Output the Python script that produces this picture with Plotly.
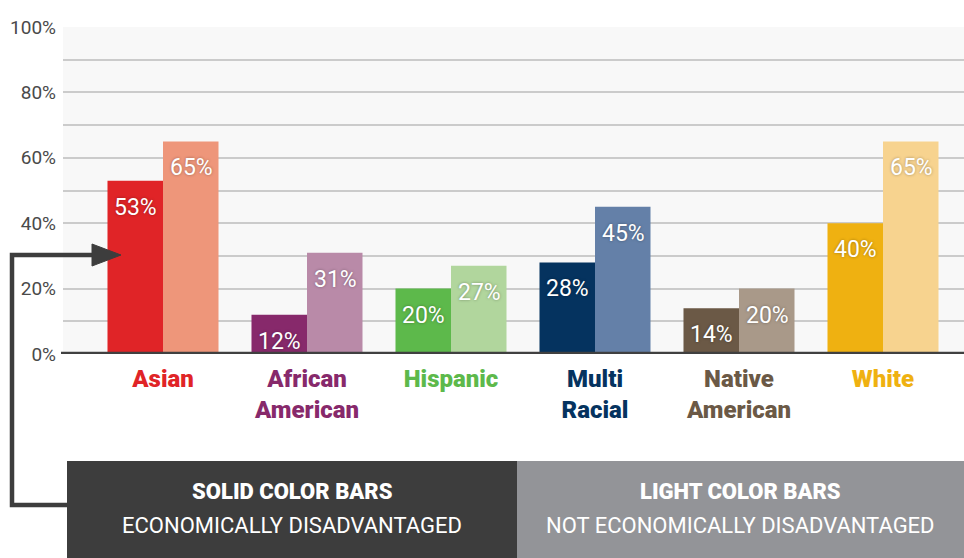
import plotly.graph_objects as go

categories = ["Asian", "African<br>American", "Hispanic", "Multi<br>Racial", "Native<br>American", "White"]
disadvantaged = [53, 12, 20, 28, 14, 40]
not_disadvantaged = [65, 31, 27, 45, 20, 65]
dark_colors = ["#e02427", "#87296b", "#5db94b", "#05335f", "#6b5946", "#efb111"]
light_colors = ["#ee967a", "#b98aa8", "#b1d69d", "#6480a8", "#a99989", "#f7d38f"]
y_ticks = [0, 20, 40, 60, 80, 100]
y_ticktext = ["0%", "20%", "40%", "60%", "80%", "100%"]
legend_titles = ["SOLID COLOR BARS", "LIGHT COLOR BARS"]
legend_subtitles = ["ECONOMICALLY DISADVANTAGED", "NOT ECONOMICALLY DISADVANTAGED"]

W, H = 964, 558
ML, MR, MT, MB = 63, 0, 27, 204
PW, PH = W - ML - MR, H - MT - MB

def px(x):
    return (x - ML) / PW

def py(y):
    return (H - MB - y) / PH

NARROW = "Roboto, sans-serif"
BOLD = "Roboto, Liberation Sans, sans-serif"

fig = go.Figure()
fig.add_trace(go.Bar(x=categories, y=disadvantaged, marker=dict(color=dark_colors, line=dict(width=0)),
                     name="Economically disadvantaged", hoverinfo="skip"))
fig.add_trace(go.Bar(x=categories, y=not_disadvantaged, marker=dict(color=light_colors, line=dict(width=0)),
                     name="Not economically disadvantaged", hoverinfo="skip"))

label_font = dict(family=NARROW, size=23, color="white", shadow="0px 0px 3px rgba(0,0,0,0.35)")
annotations = []
for cat, v in zip(categories, disadvantaged):
    annotations.append(dict(x=cat, y=v, xref="x", yref="y", text=f"{v}%", showarrow=False,
                            xshift=-28, yshift=-11, yanchor="top", xanchor="center", font=label_font))
for cat, v in zip(categories, not_disadvantaged):
    annotations.append(dict(x=cat, y=v, xref="x", yref="y", text=f"{v}%", showarrow=False,
                            xshift=28, yshift=-11, yanchor="top", xanchor="center", font=label_font))

# legend boxes
box_edges = [67, 517, 964]
for i in range(2):
    cx = (box_edges[i] + box_edges[i + 1]) / 2
    annotations.append(dict(x=px(cx), y=py(491), xref="paper", yref="paper", showarrow=False,
                            text=legend_titles[i], xanchor="center", yanchor="middle",
                            font=dict(family=BOLD, size=22, color="white", weight=900)))
    annotations.append(dict(x=px(cx), y=py(525), xref="paper", yref="paper", showarrow=False,
                            text=legend_subtitles[i], xanchor="center", yanchor="middle",
                            font=dict(family=BOLD, size=22, color="white")))

box_colors = ["#3d3d3d", "#939498"]
shapes = []
for i in range(2):
    shapes.append(dict(type="rect", xref="paper", yref="paper",
                       x0=px(box_edges[i]), x1=px(box_edges[i + 1]), y0=py(461), y1=py(560),
                       fillcolor=box_colors[i], line=dict(width=0), layer="above"))

# baseline
shapes.append(dict(type="line", xref="paper", yref="y", x0=px(61), x1=1, y0=0, y1=0,
                   line=dict(color="#404040", width=4.5), layer="above"))

# arrow
path = f"M {px(67)},{py(505)} L {px(12)},{py(505)} L {px(12)},{py(255)} L {px(96)},{py(255)}"
shapes.append(dict(type="path", xref="paper", yref="paper", path=path,
                   line=dict(color="#3d3d3d", width=4.5), layer="above"))
head = f"M {px(92)},{py(244)} L {px(121)},{py(255)} L {px(92)},{py(266)} Z"
shapes.append(dict(type="path", xref="paper", yref="paper", path=head,
                   fillcolor="#3d3d3d", line=dict(color="#3d3d3d", width=1), layer="above"))

ticktext = [f"<span style='color:{c}'>{cat}</span>" for cat, c in zip(categories, dark_colors)]

fig.update_layout(
    width=W, height=H,
    margin=dict(l=ML, r=MR, t=MT, b=MB, pad=0),
    paper_bgcolor="white", plot_bgcolor="#f8f8f8",
    barmode="group", bargap=0.229, bargroupgap=0,
    showlegend=False,
    annotations=annotations, shapes=shapes,
    xaxis=dict(range=[-100 / 144, 5 + (964 - 883) / 144], tickmode="array", tickvals=categories,
               ticktext=ticktext, showgrid=False, zeroline=False, showline=False, ticks="",
               tickfont=dict(family=BOLD, size=24, weight=900), ticklabelstandoff=8, fixedrange=True),
    yaxis=dict(range=[0, 100], tickmode="array", tickvals=y_ticks, ticktext=y_ticktext, showgrid=True,
               gridcolor="#cbcbcb", gridwidth=1.5, zeroline=False, showline=False, ticks="",
               minor=dict(dtick=10, showgrid=True, gridcolor="#cbcbcb", gridwidth=1.5),
               tickfont=dict(family=NARROW, size=19, color="#4a4a4a"), ticklabelstandoff=6,
               fixedrange=True),
)

fig.write_html("out.html")
